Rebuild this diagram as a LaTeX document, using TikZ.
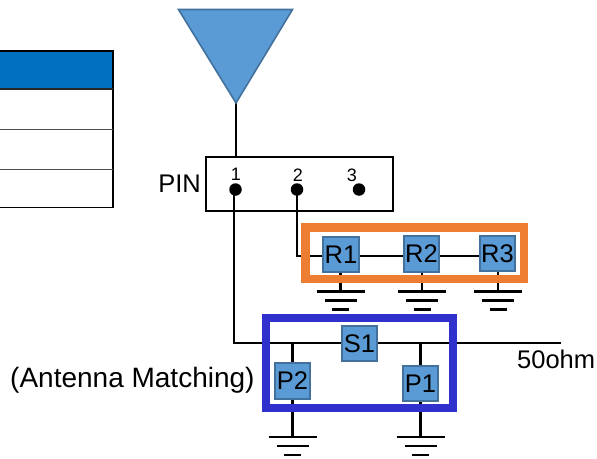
\documentclass[tikz,border=0pt]{standalone}
\usepackage{fontspec}
\setmainfont{Liberation Sans}
\definecolor{cellblue}{HTML}{5B9BD5}
\definecolor{celledge}{HTML}{41719C}
\definecolor{frameorange}{HTML}{ED7D31}
\definecolor{frameblue}{HTML}{3030CC}
\definecolor{headblue}{HTML}{0070C0}
\tikzset{
  wire/.style={draw=black,line width=2.2pt},
  part/.style={draw=celledge,line width=1.8pt,fill=cellblue,minimum size=35.5pt,inner sep=0pt,outer sep=0pt,text=black,font=\fontsize{25.5}{26}\selectfont},
  label/.style={inner sep=0pt,text=black,font=\fontsize{25.5}{26}\selectfont},
  widelabel/.style={inner sep=0pt,text=black,font=\fontsize{28}{28}\selectfont},
  pinnum/.style={inner sep=0pt,text=black,font=\fontsize{18}{18}\selectfont},
  pindot/.style={circle,fill=black,minimum size=12.5pt,inner sep=0pt},
  gndsym/.pic={
    \draw[line width=2.2pt] (-24,0) -- (24,0);
    \draw[line width=2.2pt] (-16,9) -- (16,9);
    \draw[line width=2.2pt] (-8.5,18) -- (8.5,18);
  }
}
\begin{document}
\begin{tikzpicture}[x=1pt,y=-1pt]
\useasboundingbox (0,0) rectangle (597,458);
% table
\fill[headblue] (0,51) rectangle (113,89);
\draw[line width=1.8pt] (0,51) -- (113,51) -- (113,207.5) -- (0,207.5);
\draw[line width=1.4pt,draw=black!85] (0,89) -- (113,89);
\draw[line width=1pt,draw=black!70] (0,129) -- (113,129);
\draw[line width=1pt,draw=black!70] (0,169) -- (113,169);
% antenna
\coordinate (antTip) at (236,103);
\draw[wire] (antTip) -- (236,157);
\path[draw=celledge,line width=1.6pt,fill=cellblue,line join=miter] (178.5,9.5) -- (292.5,9.5) -- (antTip) -- cycle;
% pin box
\node[draw=black,line width=2.2pt,minimum width=187pt,minimum height=54pt,inner sep=0pt,outer sep=0pt,anchor=north west] (pinbox) at (206,157) {};
\node[label,anchor=east] (pinlabel) at (201,183.5) {PIN};
\node[pindot] (d1) at (235.5,189.5) {};
\node[pindot] (d2) at (297,189.5) {};
\node[pindot] (d3) at (359,189.5) {};
\node[pinnum] (n1) at (236,174.5) {1};
\node[pinnum] (n2) at (298,175) {2};
\node[pinnum] (n3) at (352,175.5) {3};
% parts
\coordinate (rj) at (297,256);
\coordinate (mj) at (234,343);
\coordinate (end) at (561,343);
\coordinate (p2j) at (292.5,343);
\coordinate (p1j) at (420.5,343);
\coordinate (g1) at (340.5,291.5);
\coordinate (g2) at (422,291.5);
\coordinate (g3) at (498,291.5);
\coordinate (g4) at (292.5,437);
\coordinate (g5) at (420.5,437);
\draw[wire] (d2.center) -- (rj) -- (341,256) -- (g2 |- rj) -- (g3 |- rj);
\draw[wire] (d1.center -| mj) -- (mj) -- (end);
\draw[wire] (p2j) -- (g4);
\draw[wire] (p1j) -- (g5);
\draw[wire] (340.5,256) -- (g1);
\draw[wire] (g2 |- rj) -- (g2);
\draw[wire] (g3 |- rj) -- (g3);
\node[part] (R1) at (341,254.5) {R1};
\node[part] (R2) at (421.5,254) {R2};
\node[part] (R3) at (497.5,253.5) {R3};
\node[part] (S1) at (359.5,343.5) {S1};
\node[part] (P2) at (292.5,381) {P2};
\node[part] (P1) at (420.5,383.5) {P1};
\pic at (g1) {gndsym};
\pic at (g2) {gndsym};
\pic at (g3) {gndsym};
\pic at (g4) {gndsym};
\pic at (g5) {gndsym};
% frames
\node[draw=frameorange,line width=8.5pt,minimum width=218.5pt,minimum height=51.5pt,inner sep=0pt,outer sep=0pt,anchor=north west] (orangeframe) at (305.5,227.5) {};
\node[draw=frameblue,line width=8pt,minimum width=187pt,minimum height=90pt,inner sep=0pt,outer sep=0pt,anchor=north west] (blueframe) at (266,318) {};
% labels
\node[widelabel,anchor=west] (am) at (10,380) {(Antenna Matching)};
\node[label,anchor=west] (ohm) at (517,359) {50ohm};
\end{tikzpicture}
\end{document}
